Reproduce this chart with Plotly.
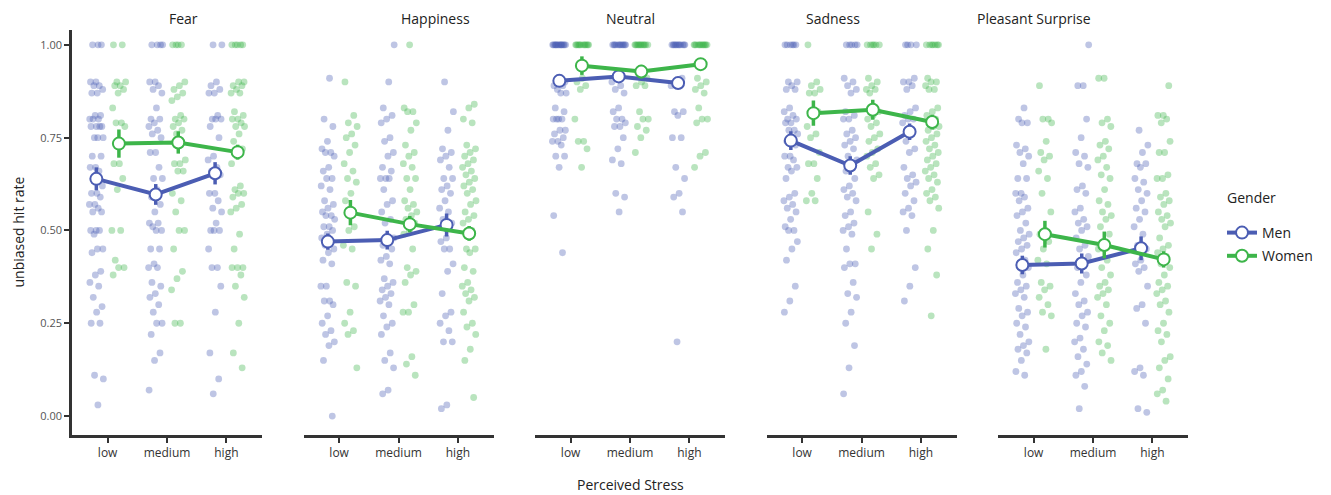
import plotly.graph_objects as go

facets = ["Fear", "Happiness", "Neutral", "Sadness", "Pleasant Surprise"]
stress_levels = ["low", "medium", "high"]
y_ticks = [0.0, 0.25, 0.5, 0.75, 1.0]
y_tick_labels = ["0.00", "0.25", "0.50", "0.75", "1.00"]

# ---------------- raw participant hit rates ----------------
fear_men_low = [1, 1, 1, .90, .90, .89, .89, .88, .87, .87, .81, .81, .80, .80, .80, .78, .78, .78, .78,
                .75, .75, .75, .70, .70, .67, .67, .66, .64, .62, .60, .60, .59, .57, .57, .56, .55, .55,
                .50, .50, .50, .49, .45, .45, .44, .39, .38, .36, .35, .32, .295, .28, .25, .25, .11, .10, .03]
fear_women_low = [1, 1, .90, .90, .89, .89, .88, .87, .83, .79, .79, .78, .68, .68, .64, .61, .50, .50,
                  .42, .40, .40, .38]
fear_men_medium = [1, 1, 1, 1, .90, .90, .89, .88, .87, .83, .80, .80, .79, .78, .77, .76, .75, .71, .71,
                   .67, .64, .64, .61, .59, .57, .55, .52, .52, .51, .50, .50, .45, .45, .41, .40, .40,
                   .36, .35, .33, .32, .30, .28, .25, .25, .22, .17, .15, .07]
fear_women_medium = [1, 1, 1, 1, .90, .89, .88, .87, .86, .85, .81, .80, .80, .79, .78, .77, .76, .69,
                     .68, .68, .66, .66, .60, .58, .55, .50, .50, .45, .39, .37, .34, .25, .25]
fear_men_high = [1, 1, .90, .89, .88, .87, .87, .81, .80, .80, .80, .78, .75, .70, .69, .67, .66, .65,
                 .60, .60, .58, .56, .55, .52, .50, .50, .50, .45, .40, .40, .35, .28, .17, .10, .06]
fear_women_high = [1, 1, 1, 1, 1, .90, .90, .89, .89, .88, .87, .87, .82, .81, .80, .80, .79, .78, .78,
                   .76, .74, .72, .70, .68, .62, .61, .60, .60, .59, .57, .56, .55, .49, .45, .40, .40,
                   .40, .38, .35, .32, .25, .17, .13]

happiness_men_low = [.91, .80, .78, .74, .72, .71, .71, .70, .67, .66, .64, .64, .62, .61, .58, .57, .56,
                     .55, .54, .54, .53, .51, .51, .50, .49, .48, .47, .46, .45, .44, .42, .41, .35, .35,
                     .31, .31, .30, .27, .25, .23, .22, .20, .19, .15, .0]
happiness_women_low = [.90, .81, .79, .78, .76, .75, .73, .71, .68, .66, .64, .63, .60, .58, .51, .50,
                       .46, .45, .36, .35, .28, .25, .23, .22, .13]
happiness_men_medium = [1, .90, .83, .81, .80, .79, .75, .74, .71, .70, .67, .66, .64, .64, .64, .61, .58,
                        .57, .55, .53, .52, .48, .47, .46, .45, .43, .42, .41, .37, .36, .35, .34, .33,
                        .32, .31, .30, .27, .25, .24, .22, .17, .15, .13, .07, .06]
happiness_women_medium = [1, .83, .82, .82, .79, .77, .73, .71, .70, .68, .67, .64, .64, .61, .58, .57,
                          .56, .55, .54, .53, .52, .50, .49, .45, .40, .39, .38, .36, .30, .28, .28,
                          .16, .14, .11]
happiness_men_high = [.90, .82, .77, .72, .71, .70, .69, .67, .64, .64, .62, .61, .60, .58, .56, .55, .53,
                      .52, .48, .47, .45, .45, .41, .39, .33, .28, .27, .25, .23, .20, .20, .03, .02]
happiness_women_high = [.84, .83, .80, .79, .73, .72, .71, .70, .69, .68, .67, .66, .65, .64, .63, .62,
                        .61, .60, .58, .57, .55, .54, .53, .52, .50, .45, .45, .44, .40, .39, .36, .35,
                        .34, .33, .32, .31, .28, .25, .24, .22, .18, .15, .05]

neutral_men_low = [1, 1, 1, 1, 1, 1, 1, 1, 1, 1, 1, 1, 1, 1, 1, .90, .90, .89, .89, .88, .87, .87, .83,
                   .82, .80, .80, .80, .80, .77, .77, .76, .75, .74, .74, .73, .70, .70, .67, .54, .44]
neutral_women_low = [1, 1, 1, 1, 1, 1, 1, 1, 1, 1, 1, 1, .91, .90, .89, .88, .80, .74, .74, .72, .67]
neutral_men_medium = [1, 1, 1, 1, 1, 1, 1, 1, 1, 1, 1, 1, .91, .90, .89, .88, .87, .83, .82, .80, .80,
                      .79, .78, .78, .75, .72, .69, .68, .60, .59, .55]
neutral_women_medium = [1, 1, 1, 1, 1, 1, 1, 1, 1, 1, 1, 1, .91, .90, .89, .89, .82, .80, .80, .78,
                        .77, .75, .71]
neutral_men_high = [1, 1, 1, 1, 1, 1, 1, 1, 1, 1, 1, 1, .91, .90, .89, .89, .82, .82, .81, .75, .75,
                    .67, .64, .60, .59, .55, .20]
neutral_women_high = [1, 1, 1, 1, 1, 1, 1, 1, 1, 1, 1, 1, .91, .90, .89, .88, .87, .83, .80, .80, .79,
                      .71, .70, .67]

sadness_men_low = [1, 1, 1, 1, 1, 1, .90, .90, .89, .88, .88, .83, .82, .81, .80, .80, .79, .79, .77,
                   .77, .76, .75, .74, .73, .70, .70, .69, .67, .67, .66, .64, .60, .59, .58, .57, .56,
                   .55, .53, .51, .50, .50, .47, .45, .42, .35, .31, .28]
sadness_women_low = [1, .90, .89, .88, .87, .87, .82, .81, .78, .76, .75, .71, .68, .68, .64, .60, .58, .58]
sadness_men_medium = [1, 1, 1, 1, 1, .91, .90, .89, .88, .87, .82, .81, .80, .80, .77, .76, .75, .74,
                      .73, .72, .70, .69, .67, .66, .64, .62, .61, .60, .59, .58, .55, .54, .52, .51,
                      .50, .49, .45, .41, .41, .40, .36, .33, .32, .28, .25, .19, .13, .06]
sadness_women_medium = [1, 1, 1, 1, 1, 1, .91, .90, .89, .88, .88, .87, .82, .81, .80, .79, .78, .76,
                        .75, .74, .72, .71, .70, .68, .67, .65, .64, .55, .49, .45]
sadness_men_high = [1, 1, 1, 1, .91, .90, .90, .89, .88, .83, .82, .81, .80, .80, .79, .77, .74, .72,
                    .71, .67, .65, .64, .63, .62, .60, .58, .56, .55, .54, .50, .40, .35, .31]
sadness_women_high = [1, 1, 1, 1, 1, 1, 1, .91, .90, .90, .89, .88, .88, .83, .82, .81, .80, .79, .78,
                      .78, .77, .76, .75, .74, .73, .72, .71, .70, .69, .68, .67, .66, .65, .64, .63,
                      .61, .60, .59, .58, .56, .50, .45, .38, .27]

surprise_men_low = [.83, .80, .79, .79, .73, .72, .71, .70, .68, .64, .64, .60, .60, .59, .58, .56, .55,
                    .54, .52, .50, .49, .48, .47, .46, .45, .44, .42, .41, .40, .38, .36, .35, .34, .33,
                    .32, .29, .28, .27, .25, .24, .22, .20, .19, .18, .17, .15, .12, .11]
surprise_women_low = [.89, .80, .80, .79, .74, .71, .70, .69, .66, .64, .60, .55, .50, .49, .47, .45,
                      .42, .41, .36, .35, .34, .32, .30, .28, .27, .18]
surprise_men_medium = [1, .89, .89, .80, .75, .71, .70, .68, .67, .62, .61, .60, .56, .55, .53, .52, .51,
                       .50, .48, .46, .45, .43, .42, .40, .38, .36, .33, .31, .30, .28, .27, .25, .24,
                       .21, .20, .18, .16, .14, .12, .11, .08, .02]
surprise_women_medium = [.91, .91, .80, .79, .78, .74, .73, .72, .70, .69, .67, .65, .64, .61, .58, .57,
                         .55, .54, .53, .51, .49, .47, .45, .42, .40, .38, .36, .35, .34, .33, .32, .30,
                         .27, .25, .23, .20, .19, .17, .15]
surprise_men_high = [.77, .73, .71, .68, .68, .67, .64, .63, .61, .60, .58, .56, .55, .53, .51, .49, .46,
                     .45, .42, .41, .40, .39, .35, .30, .29, .25, .13, .12, .11, .02, .01]
surprise_women_high = [.89, .81, .81, .80, .79, .74, .71, .71, .65, .64, .64, .60, .59, .58, .57, .55,
                       .54, .53, .52, .51, .48, .46, .45, .44, .43, .41, .40, .38, .36, .35, .34, .33,
                       .31, .30, .28, .25, .23, .22, .20, .16, .15, .13, .10, .07, .06, .04]

# ---------------- group means and CI half-widths ----------------
fear_men_mean = [0.639, 0.597, 0.654]
fear_men_ci = [0.031, 0.028, 0.030]
fear_women_mean = [0.734, 0.737, 0.711]
fear_women_ci = [0.038, 0.030, 0.020]

happiness_men_mean = [0.470, 0.474, 0.515]
happiness_men_ci = [0.022, 0.025, 0.031]
happiness_women_mean = [0.548, 0.517, 0.492]
happiness_women_ci = [0.034, 0.022, 0.020]

neutral_men_mean = [0.903, 0.915, 0.897]
neutral_men_ci = [0.012, 0.012, 0.012]
neutral_women_mean = [0.944, 0.928, 0.948]
neutral_women_ci = [0.025, 0.018, 0.012]

sadness_men_mean = [0.742, 0.675, 0.766]
sadness_men_ci = [0.025, 0.025, 0.022]
sadness_women_mean = [0.816, 0.825, 0.792]
sadness_women_ci = [0.034, 0.027, 0.020]

surprise_men_mean = [0.407, 0.411, 0.452]
surprise_men_ci = [0.025, 0.027, 0.032]
surprise_women_mean = [0.490, 0.461, 0.422]
surprise_women_ci = [0.036, 0.036, 0.022]

# ---------------- assemble ----------------
raw = {
    "Fear": {"Men": [fear_men_low, fear_men_medium, fear_men_high],
             "Women": [fear_women_low, fear_women_medium, fear_women_high]},
    "Happiness": {"Men": [happiness_men_low, happiness_men_medium, happiness_men_high],
                  "Women": [happiness_women_low, happiness_women_medium, happiness_women_high]},
    "Neutral": {"Men": [neutral_men_low, neutral_men_medium, neutral_men_high],
                "Women": [neutral_women_low, neutral_women_medium, neutral_women_high]},
    "Sadness": {"Men": [sadness_men_low, sadness_men_medium, sadness_men_high],
                "Women": [sadness_women_low, sadness_women_medium, sadness_women_high]},
    "Pleasant Surprise": {"Men": [surprise_men_low, surprise_men_medium, surprise_men_high],
                          "Women": [surprise_women_low, surprise_women_medium, surprise_women_high]},
}
summary = {
    "Fear": {"Men": (fear_men_mean, fear_men_ci), "Women": (fear_women_mean, fear_women_ci)},
    "Happiness": {"Men": (happiness_men_mean, happiness_men_ci), "Women": (happiness_women_mean, happiness_women_ci)},
    "Neutral": {"Men": (neutral_men_mean, neutral_men_ci), "Women": (neutral_women_mean, neutral_women_ci)},
    "Sadness": {"Men": (sadness_men_mean, sadness_men_ci), "Women": (sadness_women_mean, sadness_women_ci)},
    "Pleasant Surprise": {"Men": (surprise_men_mean, surprise_men_ci), "Women": (surprise_women_mean, surprise_women_ci)},
}

line_color = {"Men": "#4B5DB3", "Women": "#3DB54A"}
point_color = {"Men": "rgba(75,93,179,0.36)", "Women": "rgba(61,181,74,0.36)"}
dodge = {"Men": -0.19, "Women": 0.19}
JITTER = 0.24
PHI = 0.6180339887

# layout geometry (pixels)
W, H = 1331, 495
ml, mr, mt, mb = 72, 143, 30, 60
pw = W - ml - mr
panel_left = [72, 303.5, 535, 766.5, 998]
panel_w = 190

fig = go.Figure()

for k, facet in enumerate(facets):
    xa = "x" if k == 0 else f"x{k+1}"
    ya = "y" if k == 0 else f"y{k+1}"
    # jittered points
    for g in ["Men", "Women"]:
        xs, ys = [], []
        for ci, vals in enumerate(raw[facet][g]):
            for i, v in enumerate(vals):
                off = (((i + 1) * PHI + 0.37 * ci + (0.5 if g == "Women" else 0)) % 1.0 - 0.5) * JITTER
                xs.append(ci + 1 + dodge[g] + off)
                ys.append(v)
        fig.add_trace(go.Scatter(
            x=xs, y=ys, mode="markers", xaxis=xa, yaxis=ya, showlegend=False, hoverinfo="skip",
            marker=dict(size=6.8, color=point_color[g], line=dict(width=0))))
    # summary
    for g in ["Men", "Women"]:
        means, cis = summary[facet][g]
        fig.add_trace(go.Scatter(
            x=[c + 1 + dodge[g] for c in range(3)], y=means, mode="lines+markers",
            xaxis=xa, yaxis=ya, name=g, legendgroup=g, showlegend=(k == 0),
            line=dict(color=line_color[g], width=4),
            marker=dict(size=12, color="white", line=dict(color=line_color[g], width=2)),
            error_y=dict(type="data", array=cis, visible=True, color=line_color[g],
                         thickness=3.5, width=0)))

    dom = [(panel_left[k] - ml) / pw, (panel_left[k] + panel_w - ml) / pw]
    xaxis = dict(domain=dom, range=[0.4, 3.6], tickvals=[1, 2, 3], ticktext=stress_levels,
                 showline=True, linecolor="#333333", linewidth=2.5, ticks="outside", ticklen=5,
                 tickwidth=1.5, tickcolor="#333333", showgrid=False, zeroline=False,
                 tickfont=dict(family="Open Sans", size=12, color="#333333"), anchor=ya, fixedrange=True)
    yaxis = dict(range=[-0.051, 1.04], showgrid=False, zeroline=False, anchor=xa, fixedrange=True)
    if k == 0:
        yaxis.update(showline=True, linecolor="#333333", linewidth=2.5, ticks="outside", ticklen=5,
                     tickwidth=1.5, tickcolor="#333333", tickvals=y_ticks, ticktext=y_tick_labels,
                     tickfont=dict(family="Open Sans", size=11, color="#555555"))
    else:
        yaxis.update(showline=False, showticklabels=False, ticks="", matches="y")
    fig.layout[f"xaxis{'' if k == 0 else k+1}"] = xaxis
    fig.layout[f"yaxis{'' if k == 0 else k+1}"] = yaxis

    fig.add_annotation(text=facet, xref="paper", yref="paper",
                       x=(dom[0] + dom[1]) / 2, y=1, yanchor="bottom", yshift=0, showarrow=False,
                       font=dict(family="Open Sans", size=14, color="#222222"))

fig.add_annotation(text="Perceived Stress", xref="paper", yref="paper", x=0.5, y=0,
                   yanchor="middle", yshift=-49, showarrow=False, borderpad=0,
                   font=dict(family="Open Sans", size=14, color="#222222"))
fig.add_annotation(text="unbiased hit rate", xref="paper", yref="paper", x=0, y=0.5,
                   xanchor="center", xshift=-54, textangle=-90, showarrow=False,
                   font=dict(family="Open Sans", size=14, color="#222222"))
fig.add_annotation(text="Gender", xref="paper", yref="paper", x=(1225 - ml) / pw, y=(H - mb - 197) / (H - mt - mb),
                   xanchor="left", yanchor="middle", showarrow=False,
                   font=dict(family="Open Sans", size=14, color="#222222"))

fig.update_layout(
    width=W, height=H, margin=dict(l=ml, r=mr, t=mt, b=mb),
    plot_bgcolor="white", paper_bgcolor="white",
    legend=dict(x=(1222 - ml) / pw, xanchor="left", y=(H - mb - 217) / (H - mt - mb), yanchor="top",
                font=dict(family="Open Sans", size=14, color="#222222"),
                itemwidth=30, tracegroupgap=2, bgcolor="rgba(0,0,0,0)"),
)

fig.write_html("out.html", config={"displayModeBar": False},
               post_script="document.body.style.margin='0';document.body.style.overflow='hidden';")
